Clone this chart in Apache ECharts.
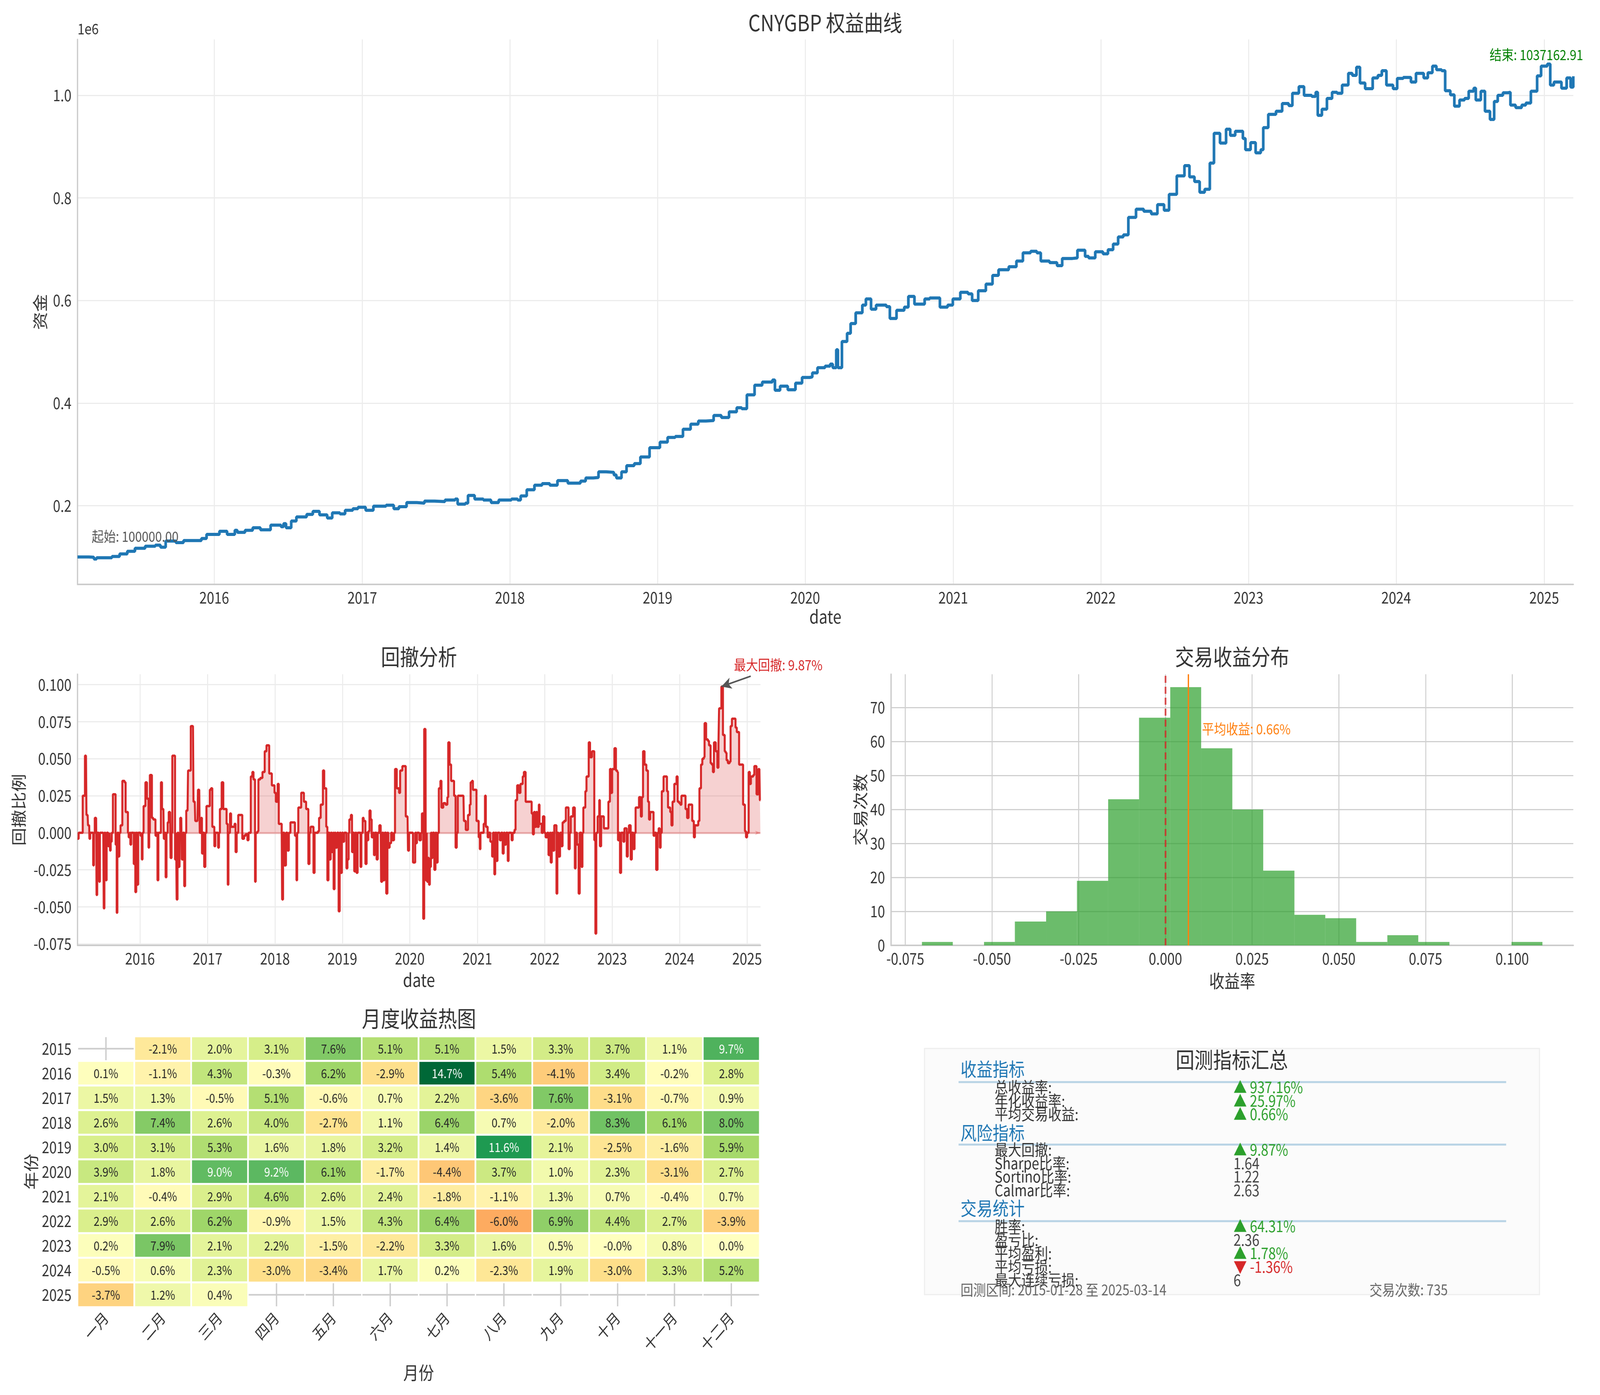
<!DOCTYPE html>
<html>
<head>
<meta charset="utf-8">
<script src="https://cdn.jsdelivr.net/npm/echarts@6/dist/echarts.min.js"></script>
<style>
  html, body { margin: 0; padding: 0; background: #fff; overflow: hidden; width: 100%; height: 100%; }
  #wrap { position: fixed; left: 0; top: 0; width: 100vw; height: 100vh; overflow: hidden; }
  #main { width: 4789px; height: 3571px; transform-origin: 0 0; }
</style>
</head>
<body>
<div id="wrap"><div id="main"></div></div>
<script>
var FONT = '"Noto Sans CJK SC", "DejaVu Sans", sans-serif';
var TXT = '#333333';

// equity curve, [decimal year, capital]
var eqPoints = [
  [2015.074,100000],[2015.151,99500],[2015.185,96000],[2015.203,98500],[2015.307,101000],[2015.359,106000],[2015.411,111000],[2015.463,117000],[2015.532,121000],[2015.601,123000],[2015.636,119000],[2015.671,131000],[2015.740,128000],[2015.792,132000],[2015.913,136000],[2015.948,144000],
  [2016.035,150000],[2016.087,144000],[2016.139,152000],[2016.156,148000],[2016.208,152000],[2016.260,157000],[2016.312,153000],[2016.381,162000],[2016.451,159000],[2016.468,165000],[2016.485,157000],[2016.520,170000],[2016.555,178000],[2016.624,183000],[2016.666,189000],[2016.711,182000],[2016.763,176000],[2016.797,186000],[2016.849,184000],[2016.884,191000],[2016.936,194000],[2016.971,197000],
  [2017.023,191000],[2017.075,199000],[2017.161,201000],[2017.213,194000],[2017.248,198000],[2017.300,206000],[2017.369,205000],[2017.421,209000],[2017.490,208000],[2017.560,211000],[2017.629,213000],[2017.646,203000],[2017.698,205000],[2017.716,220000],[2017.761,213000],[2017.820,211000],[2017.872,206000],[2017.924,211000],
  [2018.010,213000],[2018.052,211000],[2018.073,219000],[2018.114,231000],[2018.166,240000],[2018.218,243000],[2018.270,240000],[2018.322,249000],[2018.392,244000],[2018.478,248000],[2018.513,254000],[2018.565,255000],[2018.600,266000],[2018.652,265000],[2018.704,260000],[2018.721,254000],[2018.756,266000],[2018.790,278000],[2018.842,282000],[2018.884,295000],[2018.946,313000],
  [2019.016,324000],[2019.068,333000],[2019.120,335000],[2019.172,349000],[2019.224,359000],[2019.276,365000],[2019.328,366000],[2019.380,376000],[2019.432,372000],[2019.484,383000],[2019.536,391000],[2019.570,389000],[2019.605,416000],[2019.657,435000],[2019.709,441000],[2019.778,445000],[2019.795,425000],[2019.830,433000],[2019.882,426000],[2019.934,439000],[2019.979,450000],
  [2020.031,451000],[2020.048,459000],[2020.083,469000],[2020.134,472000],[2020.169,476000],[2020.186,469000],[2020.210,504000],[2020.221,469000],[2020.248,520000],[2020.283,536000],[2020.307,555000],[2020.341,576000],[2020.386,591000],[2020.410,603000],[2020.445,583000],[2020.479,591000],[2020.548,588000],[2020.572,565000],[2020.617,581000],[2020.669,587000],[2020.697,608000],[2020.738,593000],[2020.807,603000],[2020.841,605000],[2020.910,587000],[2020.962,591000],[2020.997,603000],
  [2021.048,616000],[2021.100,613000],[2021.128,600000],[2021.169,619000],[2021.221,632000],[2021.266,649000],[2021.307,660000],[2021.376,666000],[2021.428,677000],[2021.472,693000],[2021.524,696000],[2021.566,693000],[2021.593,677000],[2021.652,674000],[2021.703,668000],[2021.738,682000],[2021.807,683000],[2021.841,698000],[2021.893,686000],[2021.917,683000],[2021.962,695000],
  [2022.014,691000],[2022.048,699000],[2022.083,710000],[2022.117,724000],[2022.152,728000],[2022.186,762000],[2022.238,778000],[2022.290,774000],[2022.341,769000],[2022.383,787000],[2022.428,776000],[2022.462,807000],[2022.514,843000],[2022.566,863000],[2022.600,841000],[2022.634,832000],[2022.669,811000],[2022.703,817000],[2022.738,868000],[2022.766,926000],[2022.807,907000],[2022.848,934000],[2022.876,922000],[2022.910,930000],[2022.962,916000],[2022.979,894000],
  [2023.014,908000],[2023.048,888000],[2023.083,894000],[2023.100,937000],[2023.134,963000],[2023.186,969000],[2023.228,984000],[2023.272,980000],[2023.297,1004000],[2023.341,1017000],[2023.376,1000000],[2023.428,998000],[2023.455,1006000],[2023.469,961000],[2023.497,973000],[2023.531,994000],[2023.566,1006000],[2023.600,1004000],[2023.634,1020000],[2023.676,1043000],[2023.703,1039000],[2023.731,1055000],[2023.755,1024000],[2023.790,1013000],[2023.841,1034000],[2023.876,1039000],[2023.903,1048000],[2023.934,1020000],[2023.979,1013000],
  [2024.007,1033000],[2024.048,1035000],[2024.100,1026000],[2024.134,1043000],[2024.186,1034000],[2024.214,1044000],[2024.245,1057000],[2024.272,1050000],[2024.307,1048000],[2024.331,1009000],[2024.366,1001000],[2024.393,979000],[2024.428,991000],[2024.462,994000],[2024.490,1008000],[2024.524,1014000],[2024.538,991000],[2024.572,1008000],[2024.600,969000],[2024.634,953000],[2024.662,988000],[2024.686,1000000],[2024.721,1005000],[2024.755,1006000],[2024.772,981000],[2024.807,976000],[2024.848,981000],[2024.876,985000],[2024.910,1008000],[2024.952,1038000],[2024.979,1057000],
  [2025.021,1061000],[2025.041,1020000],[2025.066,1026000],[2025.117,1014000],[2025.152,1034000],[2025.179,1016000],[2025.197,1037162.91]
];

// drawdown ratio, [decimal year, value]
var ddPoints = [
  [2015.073,-0.004],[2015.090,0],[2015.140,0],[2015.150,0.025],[2015.173,0.025],[2015.183,0.052],[2015.199,0.052],[2015.206,0.012],[2015.223,0.012],[2015.229,0.005],[2015.246,0.005],[2015.249,-0.004],[2015.262,0],[2015.296,0],[2015.306,-0.022],[2015.316,0],[2015.329,0.010],[2015.349,0.010],[2015.355,-0.042],[2015.365,0],[2015.389,0],[2015.395,-0.033],[2015.405,0],[2015.455,0],[2015.462,-0.051],[2015.472,0],[2015.488,0],[2015.495,-0.032],[2015.505,0],[2015.528,-0.009],[2015.548,0],[2015.555,-0.012],[2015.565,-0.006],[2015.581,0],[2015.598,0.026],[2015.628,0.026],[2015.638,-0.008],[2015.654,-0.054],[2015.664,0],[2015.681,-0.016],[2015.694,0],[2015.711,0.005],[2015.738,0.035],[2015.771,0.034],[2015.787,0.014],[2015.811,0.014],[2015.821,0],[2015.831,-0.003],[2015.847,0],[2015.857,-0.008],[2015.870,0],[2015.907,-0.021],[2015.920,0],[2015.930,-0.040],[2015.944,0],[2015.960,-0.035],[2015.973,0],
  [2016.007,-0.002],[2016.027,-0.018],[2016.037,0],[2016.053,0.018],[2016.080,0.034],[2016.103,0.023],[2016.126,-0.010],[2016.136,0],[2016.146,0.039],[2016.166,0.039],[2016.176,0.010],[2016.196,0.009],[2016.219,0.009],[2016.229,-0.002],[2016.246,0],[2016.259,-0.032],[2016.272,0],[2016.292,0],[2016.309,0.034],[2016.326,0.016],[2016.346,0.016],[2016.352,-0.004],[2016.369,0],[2016.379,-0.030],[2016.392,0],[2016.409,0.007],[2016.425,0.014],[2016.445,0.014],[2016.452,-0.017],[2016.468,0],[2016.478,0.052],[2016.508,0.052],[2016.518,-0.018],[2016.535,0],[2016.542,-0.045],[2016.555,0],[2016.568,-0.023],[2016.585,0],[2016.595,0.010],[2016.611,0.010],[2016.618,-0.018],[2016.635,0],[2016.654,-0.036],[2016.668,0],[2016.684,0.015],[2016.704,0.015],[2016.711,0.042],[2016.734,0.042],[2016.751,0.072],[2016.784,0.072],[2016.791,0.021],[2016.811,0.021],[2016.817,0.008],[2016.850,0.008],[2016.857,0.029],[2016.877,0.029],[2016.884,0],[2016.904,0.010],[2016.917,-0.014],[2016.934,0],[2016.950,-0.023],[2016.967,0],[2016.983,0.018],
  [2017.017,0.018],[2017.033,0.029],[2017.050,0.030],[2017.070,0.004],[2017.090,0.004],[2017.100,-0.009],[2017.116,0],[2017.156,-0.010],[2017.169,0],[2017.183,0.016],[2017.199,0.016],[2017.209,0.034],[2017.233,0.016],[2017.266,0.016],[2017.282,0.006],[2017.299,-0.035],[2017.309,0],[2017.332,0.013],[2017.349,0.004],[2017.382,0.004],[2017.399,0.006],[2017.415,-0.013],[2017.432,0],[2017.455,0.012],[2017.498,0.012],[2017.515,-0.004],[2017.542,-0.002],[2017.565,-0.001],[2017.591,-0.005],[2017.608,0],[2017.641,0.038],[2017.664,0.041],[2017.681,0.036],[2017.704,-0.033],[2017.714,0],[2017.741,0.001],[2017.754,0.036],[2017.781,0.037],[2017.814,0.041],[2017.847,0.055],[2017.874,0.059],[2017.900,0.059],[2017.914,0.040],[2017.940,0.040],[2017.953,0.032],[2017.980,0.032],[2017.993,0.027],
  [2018.013,0.021],[2018.040,0.033],[2018.056,0.006],[2018.086,0.006],[2018.100,0],[2018.106,-0.045],[2018.120,0],[2018.140,-0.022],[2018.163,0],[2018.186,-0.012],[2018.206,0],[2018.229,0.007],[2018.279,0.007],[2018.296,-0.002],[2018.319,-0.032],[2018.329,0],[2018.346,0.017],[2018.369,0.017],[2018.389,0.027],[2018.412,0.027],[2018.429,0.021],[2018.445,0.021],[2018.462,0.016],[2018.485,0.016],[2018.495,-0.021],[2018.512,0],[2018.528,0.004],[2018.561,0.004],[2018.571,-0.027],[2018.588,0],[2018.638,0.001],[2018.654,0.010],[2018.678,0.019],[2018.694,0.019],[2018.711,0.042],[2018.731,0.030],[2018.751,0.030],[2018.761,0.004],[2018.777,-0.032],[2018.794,0],[2018.811,-0.018],[2018.827,0],[2018.844,-0.013],[2018.860,0],[2018.870,-0.038],[2018.884,0],[2018.900,-0.010],[2018.920,0],[2018.944,-0.053],[2018.960,0],[2018.977,-0.027],[2018.993,0],
  [2019.010,-0.006],[2019.027,0],[2019.060,-0.024],[2019.076,-0.018],[2019.093,0],[2019.103,0.009],[2019.126,0.012],[2019.143,-0.013],[2019.159,0],[2019.176,-0.026],[2019.193,0],[2019.209,-0.027],[2019.226,0],[2019.269,-0.023],[2019.282,0],[2019.302,0.010],[2019.316,0.008],[2019.342,-0.021],[2019.359,0],[2019.375,-0.005],[2019.385,0.001],[2019.402,0.015],[2019.419,0.009],[2019.435,-0.003],[2019.458,0],[2019.468,-0.015],[2019.482,0],[2019.508,-0.018],[2019.525,0],[2019.548,0.005],[2019.568,0.005],[2019.575,-0.033],[2019.591,0],[2019.608,-0.032],[2019.625,0],[2019.651,-0.041],[2019.668,0],[2019.681,-0.010],[2019.701,-0.007],[2019.724,0],[2019.741,-0.005],[2019.767,0],[2019.781,0.043],[2019.807,0.030],[2019.841,0.027],[2019.857,0.042],[2019.890,0.045],[2019.927,0.045],[2019.940,0.011],[2019.967,0.011],[2019.973,-0.012],[2019.990,0],
  [2020.033,0],[2020.047,-0.020],[2020.066,-0.020],[2020.080,0],[2020.093,-0.007],[2020.106,0],[2020.140,-0.005],[2020.166,0],[2020.179,0.013],[2020.199,-0.058],[2020.213,0.070],[2020.233,0.070],[2020.237,-0.032],[2020.250,0],[2020.257,-0.033],[2020.270,-0.017],[2020.284,-0.035],[2020.297,-0.023],[2020.313,0],[2020.323,-0.017],[2020.337,0],[2020.363,-0.025],[2020.380,0],[2020.396,-0.020],[2020.413,0],[2020.430,0.030],[2020.453,0.035],[2020.469,0.017],[2020.496,0.020],[2020.529,0.019],[2020.556,0.024],[2020.569,0.061],[2020.589,0.046],[2020.612,0.035],[2020.645,0.035],[2020.655,0.025],[2020.678,-0.010],[2020.695,0],[2020.711,0.025],[2020.794,0.025],[2020.801,0.008],[2020.828,0.002],[2020.861,0.012],[2020.887,0.019],[2020.900,0.034],[2020.920,0.035],[2020.934,0.029],[2020.977,0.029],[2020.987,0.008],
  [2021.020,-0.003],[2021.036,-0.011],[2021.046,0],[2021.093,0.006],[2021.113,0.025],[2021.126,0.004],[2021.153,-0.003],[2021.169,0],[2021.192,-0.006],[2021.219,-0.016],[2021.232,0],[2021.252,-0.028],[2021.265,0],[2021.285,-0.019],[2021.299,0],[2021.332,-0.005],[2021.352,0],[2021.375,-0.014],[2021.391,0],[2021.408,-0.008],[2021.425,0],[2021.451,-0.019],[2021.464,0],[2021.507,-0.005],[2021.524,0],[2021.551,0.002],[2021.567,0.022],[2021.590,0.032],[2021.617,0.027],[2021.640,0.033],[2021.673,0.038],[2021.690,0.041],[2021.716,0.021],[2021.806,0.013],[2021.823,-0.001],[2021.839,0.014],[2021.856,0.004],[2021.872,0.014],[2021.889,0.004],[2021.912,0.019],[2021.922,0.006],[2021.955,0],[2021.972,0.011],[2021.995,0],
  [2022.012,-0.003],[2022.038,0],[2022.055,-0.015],[2022.075,0],[2022.088,-0.020],[2022.104,0],[2022.121,-0.012],[2022.141,0.005],[2022.174,-0.041],[2022.187,0],[2022.204,-0.016],[2022.227,0],[2022.247,-0.009],[2022.264,0.007],[2022.287,0.008],[2022.313,0.017],[2022.353,-0.011],[2022.370,0],[2022.386,0.011],[2022.420,0.017],[2022.446,-0.024],[2022.459,0],[2022.479,-0.008],[2022.502,-0.041],[2022.519,0],[2022.546,-0.023],[2022.559,0],[2022.572,0.017],[2022.602,0.028],[2022.619,0.038],[2022.652,0.061],[2022.672,0.051],[2022.701,0.055],[2022.735,-0.005],[2022.751,-0.068],[2022.765,0],[2022.784,0.011],[2022.808,0.022],[2022.818,-0.009],[2022.837,0.011],[2022.877,0.003],[2022.944,0.021],[2022.967,0.043],[2022.983,0.027],
  [2023.000,0.043],[2023.033,0.057],[2023.056,0.042],[2023.076,0.041],[2023.086,-0.005],[2023.106,0],[2023.116,-0.027],[2023.133,0],[2023.166,-0.006],[2023.182,0.003],[2023.216,-0.016],[2023.232,0],[2023.249,0.005],[2023.275,-0.018],[2023.292,0],[2023.315,-0.011],[2023.332,0],[2023.348,0.017],[2023.398,0.024],[2023.425,0.011],[2023.441,0.024],[2023.458,0.055],[2023.481,0.046],[2023.507,0.042],[2023.531,0.021],[2023.547,0.009],[2023.564,0.014],[2023.614,-0.002],[2023.630,0],[2023.653,-0.025],[2023.673,0],[2023.690,0.003],[2023.706,-0.010],[2023.720,0],[2023.736,0.028],[2023.763,0.038],[2023.813,0.028],[2023.829,0.017],[2023.862,0.014],[2023.879,0.005],[2023.896,0.021],[2023.922,0.033],[2023.955,0.038],[2023.972,0.021],[2023.995,0.020],
  [2024.012,0.019],[2024.028,0.025],[2024.088,0.016],[2024.111,0.010],[2024.134,0.019],[2024.187,0.008],[2024.211,-0.003],[2024.227,0.005],[2024.277,0.008],[2024.294,0.030],[2024.317,0.046],[2024.337,0.050],[2024.360,0.051],[2024.370,0.074],[2024.393,0.063],[2024.420,0.062],[2024.436,0.059],[2024.459,0.047],[2024.476,0.046],[2024.493,0.041],[2024.509,0.061],[2024.536,0.055],[2024.559,0.044],[2024.576,0.060],[2024.585,0.084],[2024.619,0.0987],[2024.642,0.066],[2024.668,0.055],[2024.682,0.054],[2024.695,0.049],[2024.715,0.047],[2024.741,0.048],[2024.755,0.072],[2024.775,0.077],[2024.828,0.071],[2024.847,0.068],[2024.881,0.046],[2024.940,0.019],[2024.967,0.001],[2024.983,-0.003],[2025.000,0],
  [2025.023,0.041],[2025.040,0.033],[2025.056,0.038],[2025.090,0.039],[2025.106,0.045],[2025.139,0.026],[2025.166,0.043],[2025.182,0.042],[2025.189,0.022],[2025.197,0.022]
];

// trade return histogram
var histEdges = [-0.0702, -0.0613, -0.0523, -0.0434, -0.0344, -0.0255, -0.0165, -0.0076, 0.0014, 0.0103, 0.0193,
                 0.0282, 0.0372, 0.0461, 0.0550, 0.0640, 0.0729, 0.0819, 0.0908, 0.0998, 0.1087];
var histCounts = [1, 0, 1, 7, 10, 19, 43, 67, 76, 58, 40, 22, 9, 8, 1, 3, 1, 0, 0, 1];
var meanReturn = 0.0066;

// monthly returns (%)
var heatYears = ['2015', '2016', '2017', '2018', '2019', '2020', '2021', '2022', '2023', '2024', '2025'];
var monthNames = ['一月', '二月', '三月', '四月', '五月', '六月', '七月', '八月', '九月', '十月', '十一月', '十二月'];
var monthlyReturns = [
  [null, -2.1, 2.0, 3.1, 7.6, 5.1, 5.1, 1.5, 3.3, 3.7, 1.1, 9.7],
  [0.1, -1.1, 4.3, -0.3, 6.2, -2.9, 14.7, 5.4, -4.1, 3.4, -0.2, 2.8],
  [1.5, 1.3, -0.5, 5.1, -0.6, 0.7, 2.2, -3.6, 7.6, -3.1, -0.7, 0.9],
  [2.6, 7.4, 2.6, 4.0, -2.7, 1.1, 6.4, 0.7, -2.0, 8.3, 6.1, 8.0],
  [3.0, 3.1, 5.3, 1.6, 1.8, 3.2, 1.4, 11.6, 2.1, -2.5, -1.6, 5.9],
  [3.9, 1.8, 9.0, 9.2, 6.1, -1.7, -4.4, 3.7, 1.0, 2.3, -3.1, 2.7],
  [2.1, -0.4, 2.9, 4.6, 2.6, 2.4, -1.8, -1.1, 1.3, 0.7, -0.4, 0.7],
  [2.9, 2.6, 6.2, -0.9, 1.5, 4.3, 6.4, -6.0, 6.9, 4.4, 2.7, -3.9],
  [0.2, 7.9, 2.1, 2.2, -1.5, -2.2, 3.3, 1.6, 0.5, -0.04, 0.8, 0.0],
  [-0.5, 0.6, 2.3, -3.0, -3.4, 1.7, 0.2, -2.3, 1.9, -3.0, 3.3, 5.2],
  [-3.7, 1.2, 0.4, null, null, null, null, null, null, null, null, null]
];

// tick labels
var tickYears = [2016, 2017, 2018, 2019, 2020, 2021, 2022, 2023, 2024, 2025];
var eqTicks = [200000, 400000, 600000, 800000, 1000000];
var ddTicks = [-0.075, -0.05, -0.025, 0, 0.025, 0.05, 0.075, 0.1];
var histXTicks = [-0.075, -0.05, -0.025, 0, 0.025, 0.05, 0.075, 0.1];
var histYTicks = [0, 10, 20, 30, 40, 50, 60, 70];

// summary panel
var metricSections = ['收益指标', '风险指标', '交易统计'];
var metricLabels = [
  ['总收益率:', '年化收益率:', '平均交易收益:'],
  ['最大回撤:', 'Sharpe比率:', 'Sortino比率:', 'Calmar比率:'],
  ['胜率:', '盈亏比:', '平均盈利:', '平均亏损:', '最大连续亏损:']
];
var metricValues = [
  ['▲ 937.16%', '▲ 25.97%', '▲ 0.66%'],
  ['▲ 9.87%', '1.64', '1.22', '2.63'],
  ['▲ 64.31%', '2.36', '▲ 1.78%', '▼ -1.36%', '6']
];
var backtestRange = '回测区间: 2015-01-28 至 2025-03-14';
var tradeCount = '交易次数: 735';

var RDYLGN = ['#a50026', '#d73027', '#f46d43', '#fdae61', '#fee08b', '#ffffbf',
              '#d9ef8b', '#a6d96a', '#66bd63', '#1a9850', '#006837'];

function yearToTime(y) {
  var yr = Math.floor(y + 1e-9);
  var a = Date.UTC(yr, 0, 1), b = Date.UTC(yr + 1, 0, 1);
  return a + (y - yr) * (b - a);
}

var yearTickTimes = tickYears.map(function (y) { return Date.UTC(y, 0, 1); });
var eqData = eqPoints.map(function (p) { return [yearToTime(p[0]), p[1]]; });
var ddData = ddPoints.map(function (p) { return [yearToTime(p[0]), p[1]]; });

var ddMax = ddPoints.reduce(function (m, p) { return p[1] > m[1] ? p : m; }, ddPoints[0]);
var eqFirst = eqPoints[0], eqLast = eqPoints[eqPoints.length - 1];

var histData = histCounts.map(function (c, i) { return [histEdges[i], histEdges[i + 1], c]; });

var heatData = [];
var emptyCells = [];
monthlyReturns.forEach(function (row, yi) {
  row.forEach(function (v, mi) {
    if (v === null) { emptyCells.push([mi, yi]); return; }
    heatData.push({ value: [mi, yi, v], label: { color: Math.abs(v) >= 8.5 ? '#ffffff' : '#262626' } });
  });
});

function axis(extra) {
  var base = {
    axisLine: { show: true, onZero: false, lineStyle: { color: '#cccccc', width: 4 } },
    axisTick: { show: false },
    axisLabel: { color: TXT, fontSize: 40, fontFamily: FONT },
    splitLine: { show: true, lineStyle: { color: '#ececec', width: 3 } },
    nameLocation: 'middle',
    nameTextStyle: { color: TXT, fontSize: 46, fontFamily: FONT }
  };
  return echarts.util.merge(base, extra, true);
}

function yearFmt(v) { return String(new Date(v).getUTCFullYear()); }

// text graphics: titles and summary panel
var graphics = [
  { type: 'text', x: 2470, y: 58, style: { text: 'CNYGBP 权益曲线', font: '57px ' + FONT, fill: TXT, align: 'center', verticalAlign: 'middle' } },
  { type: 'text', x: 232, y: 74, style: { text: '1e6', font: '38px ' + FONT, fill: TXT, align: 'left', verticalAlign: 'middle' } },
  { type: 'text', x: 1254, y: 1681, style: { text: '回撤分析', font: '57px ' + FONT, fill: TXT, align: 'center', verticalAlign: 'middle' } },
  { type: 'text', x: 3688, y: 1681, style: { text: '交易收益分布', font: '57px ' + FONT, fill: TXT, align: 'center', verticalAlign: 'middle' } },
  { type: 'text', x: 1254, y: 2607, style: { text: '月度收益热图', font: '57px ' + FONT, fill: TXT, align: 'center', verticalAlign: 'middle' } },
  { type: 'rect', shape: { x: 2767, y: 2684, width: 1841, height: 630 }, style: { fill: '#fbfbfb', stroke: '#eeeeee', lineWidth: 3 } },
  { type: 'text', x: 3687, y: 2713, style: { text: '回测指标汇总', font: '56px ' + FONT, fill: TXT, align: 'center', verticalAlign: 'middle' } }
];
var headerY = [2737, 2900, 3093];
var sepY = [2770, 2930, 3126];
metricSections.forEach(function (name, s) {
  graphics.push({ type: 'text', x: 2875, y: headerY[s], style: { text: name, font: '48px ' + FONT, fill: '#1f77b4', align: 'left', verticalAlign: 'middle' } });
  graphics.push({ type: 'line', shape: { x1: 2869, y1: sepY[s], x2: 4508, y2: sepY[s] }, style: { stroke: 'rgba(31,119,180,0.3)', lineWidth: 5 } });
  metricLabels[s].forEach(function (lab, i) {
    var y = sepY[s] + 13 + i * 34.5;
    var val = metricValues[s][i];
    var col = val.charAt(0) === '▲' ? '#2ca02c' : (val.charAt(0) === '▼' ? '#d62728' : '#444444');
    graphics.push({ type: 'text', x: 2977, y: y, style: { text: lab, font: '40px ' + FONT, fill: TXT, align: 'left', verticalAlign: 'middle' } });
    graphics.push({ type: 'text', x: 3692, y: y, style: { text: val, font: '40px ' + FONT, fill: col, align: 'left', verticalAlign: 'middle' } });
  });
});
graphics.push({ type: 'text', x: 2875, y: 3302, style: { text: backtestRange, font: '38px ' + FONT, fill: '#666666', align: 'left', verticalAlign: 'middle' } });
graphics.push({ type: 'text', x: 4099, y: 3302, style: { text: tradeCount, font: '38px ' + FONT, fill: '#666666', align: 'left', verticalAlign: 'middle' } });

var option = {
  animation: false,
  backgroundColor: '#ffffff',
  textStyle: { fontFamily: FONT },
  grid: [
    { left: 232, top: 101, width: 4477, height: 1395 },
    { left: 232, top: 1726, width: 2044, height: 694 },
    { left: 2667, top: 1726, width: 2042, height: 694 },
    { left: 232, top: 2653, width: 2042, height: 693 }
  ],
  xAxis: [
    axis({ type: 'value', gridIndex: 0, min: 'dataMin', max: 'dataMax', name: 'date', nameGap: 60,
      axisTick: { customValues: yearTickTimes },
      axisLabel: { customValues: yearTickTimes, formatter: yearFmt, margin: 14 } }),
    axis({ type: 'value', gridIndex: 1, min: 'dataMin', max: 'dataMax', name: 'date', nameGap: 66,
      axisTick: { customValues: yearTickTimes },
      axisLabel: { customValues: yearTickTimes, formatter: yearFmt, margin: 14 } }),
    axis({ type: 'value', gridIndex: 2, min: -0.0791, max: 0.1176, name: '收益率', nameGap: 68,
      axisTick: { customValues: histXTicks },
      axisLabel: { customValues: histXTicks, formatter: function (v) { return v.toFixed(3); }, margin: 14 },
      splitLine: { lineStyle: { color: '#d0d0d0', width: 3 } } }),
    axis({ type: 'category', gridIndex: 3, data: monthNames, name: '月份', nameGap: 145,
      axisLine: { show: false }, splitLine: { show: false },
      axisLabel: { rotate: 45, margin: 20 } })
  ],
  yAxis: [
    axis({ type: 'value', gridIndex: 0, min: 46500, max: 1109000, name: '资金', nameGap: 89, nameRotate: 90,
      axisTick: { customValues: eqTicks },
      axisLabel: { customValues: eqTicks, formatter: function (v) { return (v / 1e6).toFixed(1); }, margin: 18 } }),
    axis({ type: 'value', gridIndex: 1, min: -0.076, max: 0.107, name: '回撤比例', nameGap: 153, nameRotate: 90,
      axisTick: { customValues: ddTicks },
      axisLabel: { customValues: ddTicks, formatter: function (v) { return v.toFixed(3); }, margin: 18 } }),
    axis({ type: 'value', gridIndex: 2, min: 0, max: 79.8, name: '交易次数', nameGap: 69, nameRotate: 90,
      axisTick: { customValues: histYTicks },
      axisLabel: { customValues: histYTicks, margin: 18 },
      splitLine: { lineStyle: { color: '#d0d0d0', width: 3 } } }),
    axis({ type: 'category', gridIndex: 3, data: heatYears, inverse: true, name: '年份', nameGap: 116, nameRotate: 90,
      axisLine: { show: false }, splitLine: { show: false },
      axisLabel: { margin: 18 } })
  ],
  visualMap: {
    type: 'continuous', show: false, seriesIndex: 4, dimension: 2,
    min: -14.7, max: 14.7, inRange: { color: RDYLGN }
  },
  series: [
    {
      type: 'line', xAxisIndex: 0, yAxisIndex: 0, data: eqData, step: 'end',
      showSymbol: false, silent: true,
      lineStyle: { color: '#1f77b4', width: 8 },
      markPoint: {
        symbol: 'circle', symbolSize: 1, itemStyle: { color: 'rgba(0,0,0,0)' }, silent: true,
        data: [
          { coord: [yearToTime(eqFirst[0]), eqFirst[1]],
            label: { show: true, position: [43, -52], align: 'left', verticalAlign: 'middle',
              formatter: '起始: ' + eqFirst[1].toFixed(2), color: '#555555', fontSize: 36, fontFamily: FONT } },
          { coord: [yearToTime(eqLast[0]), eqLast[1]],
            label: { show: true, position: [-250, -55], align: 'left', verticalAlign: 'middle',
              formatter: '结束: ' + eqLast[1].toFixed(2), color: '#008000', fontSize: 36, fontFamily: FONT } }
        ]
      }
    },
    {
      type: 'line', xAxisIndex: 1, yAxisIndex: 1, data: ddData, step: 'end',
      showSymbol: false, silent: true,
      lineStyle: { color: '#d62728', width: 6 },
      areaStyle: { color: 'rgba(214,39,40,0.3)' },
      markLine: {
        silent: true, animation: false, precision: 6,
        data: [
          { yAxis: 0, symbol: 'none', lineStyle: { color: 'rgba(214,39,40,0.3)', width: 5, type: 'solid' }, label: { show: false } },
          [
            { coord: [yearToTime(2025.053), 0.1057], symbol: 'none' },
            { coord: [yearToTime(ddMax[0]), ddMax[1]], symbol: 'arrow', symbolSize: [22, 30] }
          ]
        ],
        lineStyle: { color: '#555555', width: 4, type: 'solid' },
        label: { show: false }
      },
      markPoint: {
        symbol: 'circle', symbolSize: 1, itemStyle: { color: 'rgba(0,0,0,0)' }, silent: true,
        data: [
          { coord: [yearToTime(ddMax[0]), ddMax[1]],
            label: { show: true, position: [38, -55], align: 'left', verticalAlign: 'middle',
              formatter: '最大回撤: ' + (ddMax[1] * 100).toFixed(2) + '%', color: '#d62728', fontSize: 36, fontFamily: FONT } }
        ]
      }
    },
    {
      type: 'custom', xAxisIndex: 2, yAxisIndex: 2, data: histData, silent: true,
      encode: { x: [0, 1], y: 2 },
      renderItem: function (params, api) {
        var p0 = api.coord([api.value(0), api.value(2)]);
        var p1 = api.coord([api.value(1), 0]);
        return {
          type: 'rect',
          shape: { x: p0[0], y: p0[1], width: p1[0] - p0[0], height: p1[1] - p0[1] },
          style: { fill: 'rgba(44,160,44,0.7)' }
        };
      }
    },
    {
      type: 'line', xAxisIndex: 2, yAxisIndex: 2, data: [], silent: true,
      markLine: {
        silent: true, symbol: 'none', precision: 6, label: { show: false },
        data: [
          { xAxis: 0, lineStyle: { color: 'rgba(214,39,40,0.8)', width: 5, type: [18, 10] } },
          { xAxis: meanReturn, lineStyle: { color: '#ff7f0e', width: 4, type: 'solid' } }
        ]
      },
      markPoint: {
        symbol: 'circle', symbolSize: 1, itemStyle: { color: 'rgba(0,0,0,0)' }, silent: true,
        data: [
          { coord: [0.0106, 63.6],
            label: { show: true, position: [0, 0], align: 'left', verticalAlign: 'middle',
              formatter: '平均收益: ' + (meanReturn * 100).toFixed(2) + '%', color: '#ff7f0e', fontSize: 36, fontFamily: FONT } }
        ]
      }
    },
    {
      type: 'heatmap', xAxisIndex: 3, yAxisIndex: 3, data: heatData, silent: true,
      itemStyle: { borderColor: '#ffffff', borderWidth: 5 },
      label: {
        show: true, fontSize: 32, fontFamily: FONT,
        formatter: function (p) { return p.value[2].toFixed(1) + '%'; }
      },
      emphasis: { disabled: true }
    },
    {
      // grid lines that show through the empty heatmap cells
      type: 'custom', xAxisIndex: 3, yAxisIndex: 3, data: emptyCells, silent: true,
      renderItem: function (params, api) {
        var c = api.coord([api.value(0), api.value(1)]);
        var s = api.size([1, 1]);
        var hw = s[0] / 2 - 2, hh = s[1] / 2 - 2;
        var st = { stroke: '#cccccc', lineWidth: 4 };
        return {
          type: 'group',
          children: [
            { type: 'line', shape: { x1: c[0] - hw, y1: c[1], x2: c[0] + hw, y2: c[1] }, style: st },
            { type: 'line', shape: { x1: c[0], y1: c[1] - hh, x2: c[0], y2: c[1] + hh }, style: st }
          ]
        };
      }
    }
  ],
  graphic: graphics
};

// the window may be narrower than the 4789x3571 layout: fit it in
var mainEl = document.getElementById('main');
var sx = (window.innerWidth || 4789) / 4789;
var sy = (window.innerHeight || 3571) / 3571;
mainEl.style.transform = 'scale(' + sx + ',' + sy + ')';

var chart = echarts.init(mainEl);
chart.setOption(option);
</script>
</body>
</html>
